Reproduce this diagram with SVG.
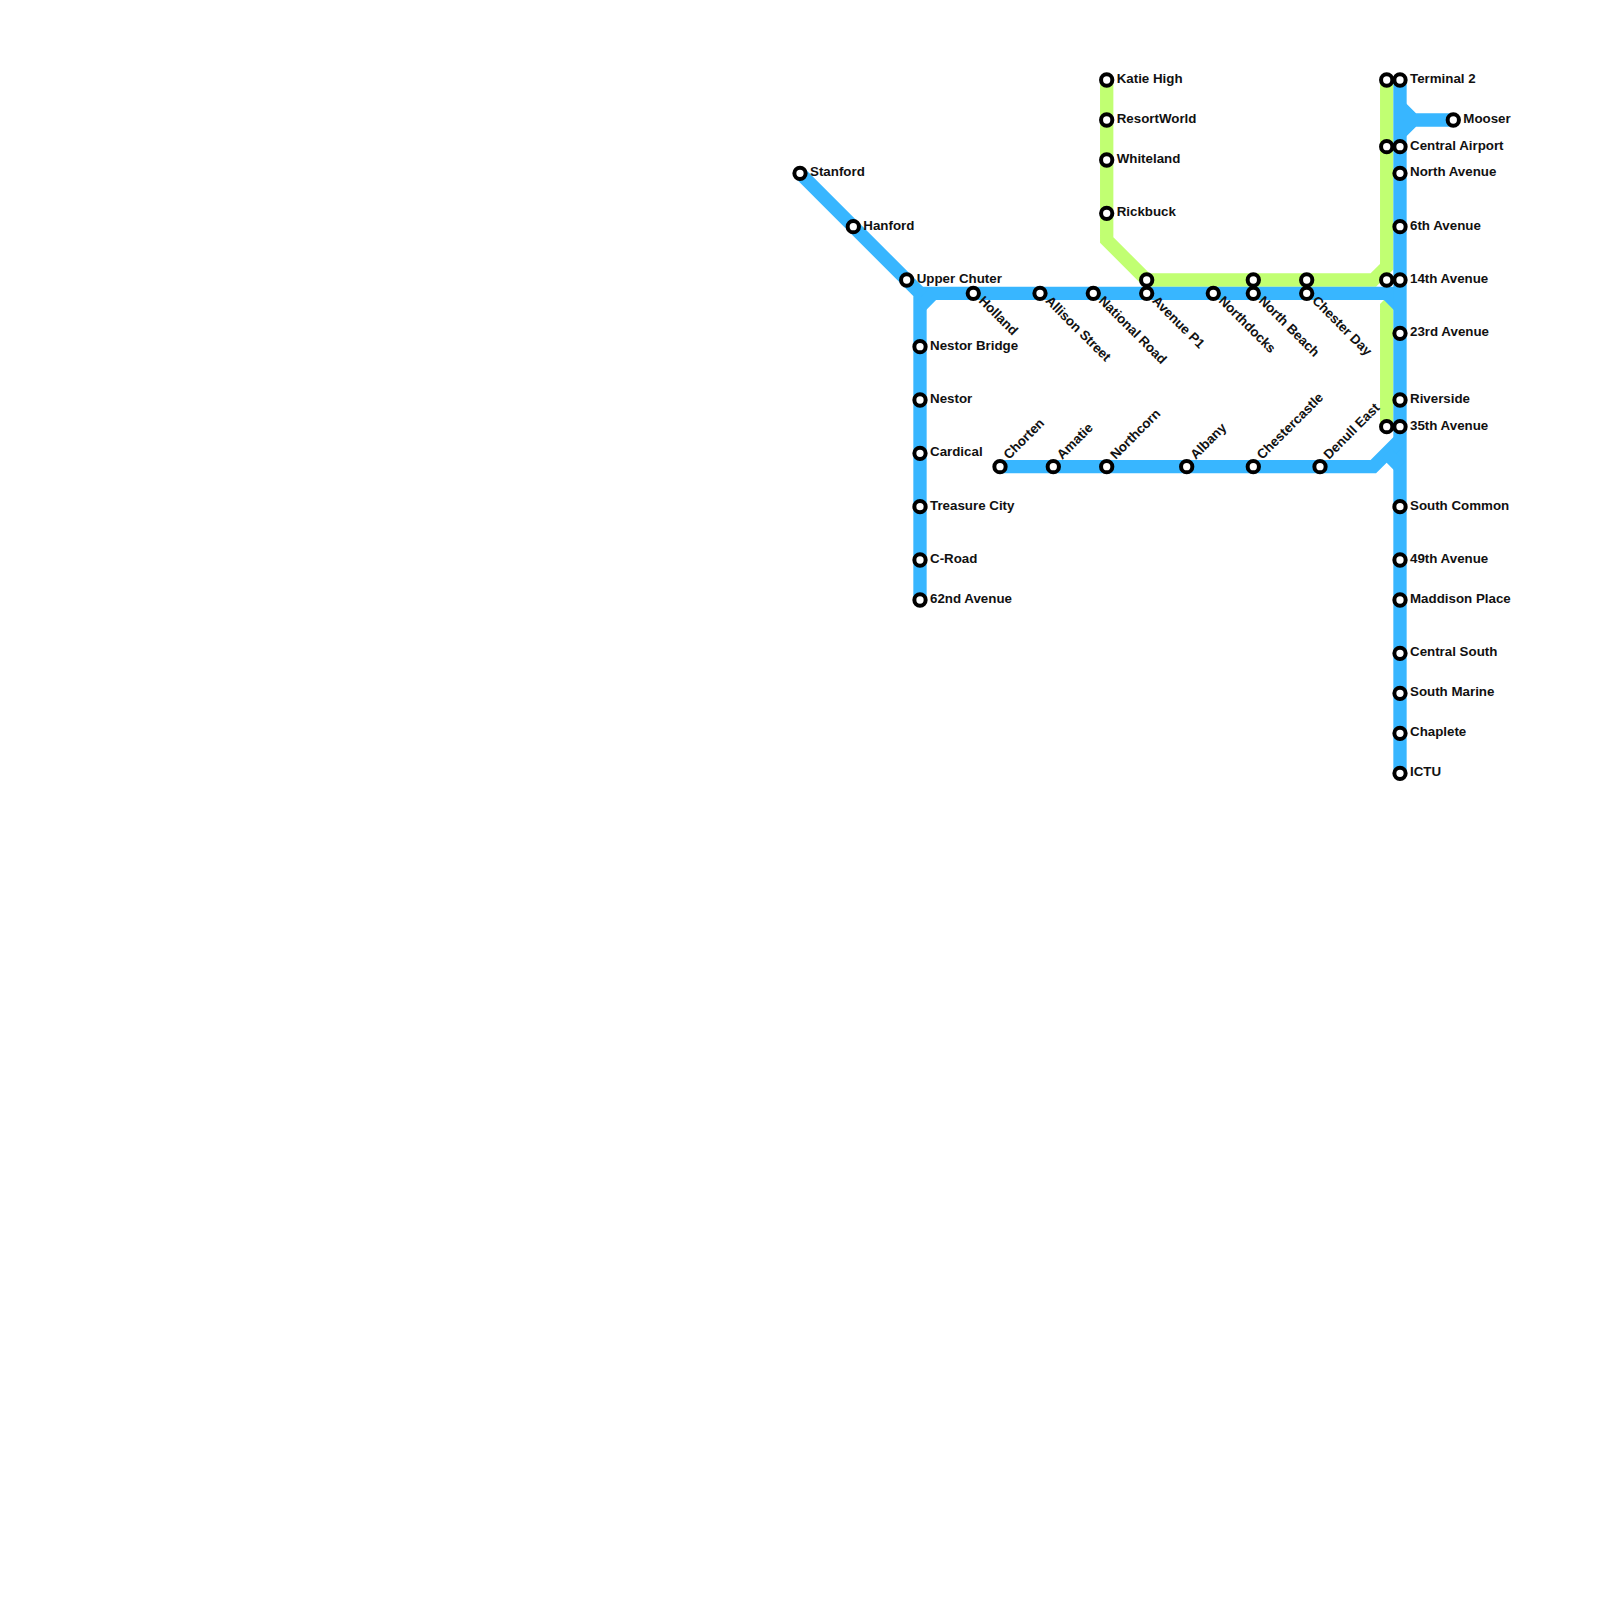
<svg xmlns="http://www.w3.org/2000/svg" width="1600" height="1600" viewBox="0 0 1600 1600">
<style>
.l{fill:none;stroke-width:13.33;stroke-linejoin:miter;stroke-linecap:butt}
.g{stroke:#c1ff72}.b{stroke:#38b6ff}
.s{fill:#fff;stroke:#000;stroke-width:4}
text{font-family:"Liberation Sans",Arial,sans-serif;font-size:13.33px;font-weight:bold;fill:#111}
</style>
<defs><circle id="o" class="s" r="5.65"/></defs>
<rect width="1600" height="1600" fill="#fff"/>
<g id="connectors">
<path class="l g" d="M1106.7 80V240L1146.7 280H1373.3L1386.7 266.7V80"/>
<path class="l g" d="M1386.7 426.7V306.7L1400 293.3"/>
<path class="l b" d="M800 173.3L920 293.3V600"/>
<path class="l b" d="M920 293.3H1400"/>
<path class="l b" d="M920 306.7L933.3 293.3M1386.7 293.3L1400 306.7"/>
<path class="l b" d="M1400 80V773.3"/>
<path class="l b" d="M1400 106.7L1413.3 120H1453.3M1413.3 120L1400 133.3"/>
<path class="l b" d="M1000 466.7H1373.3L1400 440"/>
<path class="l b" d="M1386.7 453.3L1400 466.7"/>
</g>
<g id="n1"><use href="#o" x="800" y="173.3"/><text x="810" y="176.3">Stanford</text></g>
<g id="n2"><use href="#o" x="853.3" y="226.7"/><text x="863.3" y="229.7">Hanford</text></g>
<g id="n3"><use href="#o" x="906.7" y="280"/><text x="916.7" y="283">Upper Chuter</text></g>
<g id="n4"><use href="#o" x="920" y="346.7"/><text x="930" y="349.7">Nestor Bridge</text></g>
<g id="n5"><use href="#o" x="920" y="400"/><text x="930" y="403">Nestor</text></g>
<g id="n6"><use href="#o" x="920" y="453.3"/><text x="930" y="456.3">Cardical</text></g>
<g id="n7"><use href="#o" x="920" y="506.7"/><text x="930" y="509.7">Treasure City</text></g>
<g id="n8"><use href="#o" x="920" y="560"/><text x="930" y="563">C-Road</text></g>
<g id="n9"><use href="#o" x="920" y="600"/><text x="930" y="603">62nd Avenue</text></g>
<g id="n10"><use href="#o" x="973.3" y="293.3"/><text transform="translate(978 301.5) rotate(45)">Holland</text></g>
<g id="n11"><use href="#o" x="1040" y="293.3"/><text transform="translate(1044.7 301.5) rotate(45)">Allison Street</text></g>
<g id="n12"><use href="#o" x="1093.3" y="293.3"/><text transform="translate(1098 301.5) rotate(45)">National Road</text></g>
<g id="n13"><use href="#o" x="1146.7" y="293.3"/><text transform="translate(1151.4 301.5) rotate(45)">Avenue P1</text></g>
<g id="n14"><use href="#o" x="1213.3" y="293.3"/><text transform="translate(1218 301.5) rotate(45)">Northdocks</text></g>
<g id="n15"><use href="#o" x="1253.3" y="293.3"/><text transform="translate(1258 301.5) rotate(45)">North Beach</text></g>
<g id="n16"><use href="#o" x="1306.7" y="293.3"/><text transform="translate(1311.4 301.5) rotate(45)">Chester Day</text></g>
<g id="n17"><use href="#o" x="1146.7" y="280"/></g>
<g id="n18"><use href="#o" x="1253.3" y="280"/></g>
<g id="n19"><use href="#o" x="1306.7" y="280"/></g>
<g id="n20"><use href="#o" x="1106.7" y="80"/><text x="1116.7" y="83">Katie High</text></g>
<g id="n21"><use href="#o" x="1106.7" y="120"/><text x="1116.7" y="123">ResortWorld</text></g>
<g id="n22"><use href="#o" x="1106.7" y="160"/><text x="1116.7" y="163">Whiteland</text></g>
<g id="n23"><use href="#o" x="1106.7" y="213.3"/><text x="1116.7" y="216.3">Rickbuck</text></g>
<g id="n24"><use href="#o" x="1000" y="466.7"/><text transform="translate(1009 460) rotate(-45)">Chorten</text></g>
<g id="n25"><use href="#o" x="1053.3" y="466.7"/><text transform="translate(1062.3 460) rotate(-45)">Amatie</text></g>
<g id="n26"><use href="#o" x="1106.7" y="466.7"/><text transform="translate(1115.7 460) rotate(-45)">Northcorn</text></g>
<g id="n27"><use href="#o" x="1186.7" y="466.7"/><text transform="translate(1195.7 460) rotate(-45)">Albany</text></g>
<g id="n28"><use href="#o" x="1253.3" y="466.7"/><text transform="translate(1262.3 460) rotate(-45)">Chestercastle</text></g>
<g id="n29"><use href="#o" x="1320" y="466.7"/><text transform="translate(1329 460) rotate(-45)">Denull East</text></g>
<g id="n30"><use href="#o" x="1386.7" y="80"/></g>
<g id="n31"><use href="#o" x="1386.7" y="146.7"/></g>
<g id="n32"><use href="#o" x="1386.7" y="280"/></g>
<g id="n33"><use href="#o" x="1386.7" y="426.7"/></g>
<g id="n34"><use href="#o" x="1400" y="80"/><text x="1410" y="83">Terminal 2</text></g>
<g id="n35"><use href="#o" x="1453.3" y="120"/><text x="1463.3" y="123">Mooser</text></g>
<g id="n36"><use href="#o" x="1400" y="146.7"/><text x="1410" y="149.7">Central Airport</text></g>
<g id="n37"><use href="#o" x="1400" y="173.3"/><text x="1410" y="176.3">North Avenue</text></g>
<g id="n38"><use href="#o" x="1400" y="226.7"/><text x="1410" y="229.7">6th Avenue</text></g>
<g id="n39"><use href="#o" x="1400" y="280"/><text x="1410" y="283">14th Avenue</text></g>
<g id="n40"><use href="#o" x="1400" y="333.3"/><text x="1410" y="336.3">23rd Avenue</text></g>
<g id="n41"><use href="#o" x="1400" y="400"/><text x="1410" y="403">Riverside</text></g>
<g id="n42"><use href="#o" x="1400" y="426.7"/><text x="1410" y="429.7">35th Avenue</text></g>
<g id="n43"><use href="#o" x="1400" y="506.7"/><text x="1410" y="509.7">South Common</text></g>
<g id="n44"><use href="#o" x="1400" y="560"/><text x="1410" y="563">49th Avenue</text></g>
<g id="n45"><use href="#o" x="1400" y="600"/><text x="1410" y="603">Maddison Place</text></g>
<g id="n46"><use href="#o" x="1400" y="653.3"/><text x="1410" y="656.3">Central South</text></g>
<g id="n47"><use href="#o" x="1400" y="693.3"/><text x="1410" y="696.3">South Marine</text></g>
<g id="n48"><use href="#o" x="1400" y="733.3"/><text x="1410" y="736.3">Chaplete</text></g>
<g id="n49"><use href="#o" x="1400" y="773.3"/><text x="1410" y="776.3">ICTU</text></g>
</svg>
